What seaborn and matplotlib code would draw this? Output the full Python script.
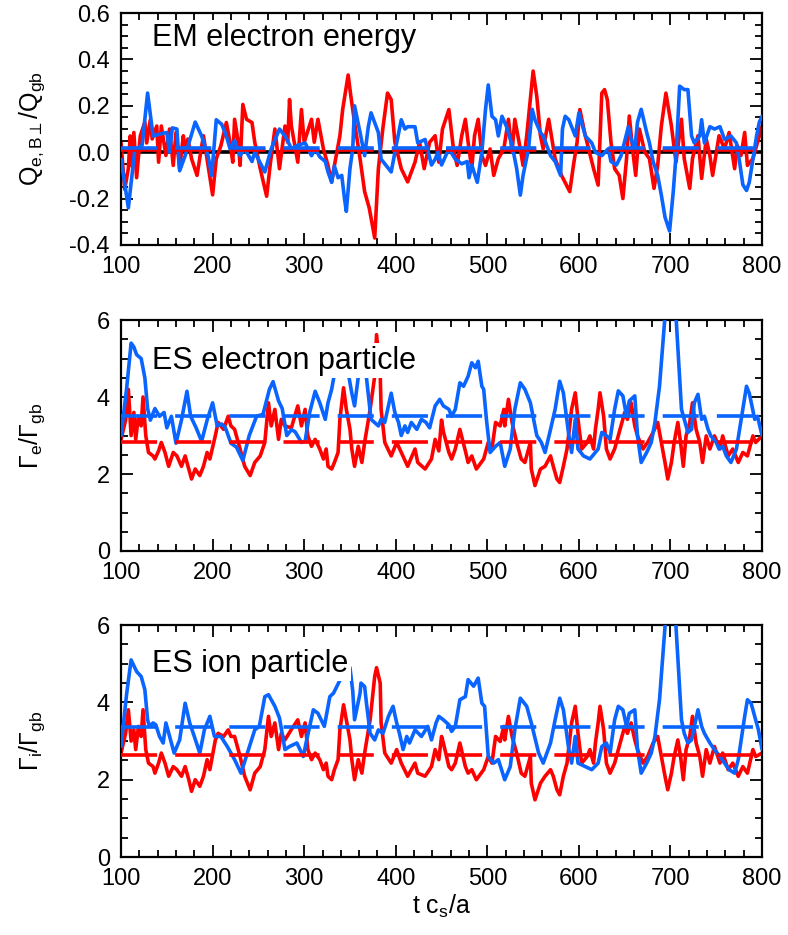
import pandas as pd
import seaborn as sns
import matplotlib.pyplot as plt
from matplotlib.ticker import MultipleLocator

# ---- panel 1: EM electron energy flux ----
t_em_red = [100, 104, 108, 110, 112, 114, 117, 121, 126, 128, 132, 134, 139, 141, 144, 149, 153, 157, 160, 164,
            168, 170, 173, 177, 183, 187, 190, 200, 204, 209, 215, 219, 222, 224, 228, 230, 233, 237, 243, 246,
            252, 259, 263, 268, 273, 279, 282, 284, 286, 293, 297, 300, 308, 311, 315, 321, 326, 330, 333, 339,
            342, 348, 351, 355, 361, 366, 371, 377, 381, 386, 391, 395, 399, 406, 413, 421, 426, 431, 437, 443,
            447, 451, 458, 463, 467, 472, 476, 479, 483, 486, 490, 494, 498, 503, 507, 512, 518, 523, 527, 530,
            536, 539, 543, 550, 554, 558, 561, 567, 574, 581, 590, 594, 598, 601, 607, 616, 621, 625, 628, 631,
            635, 639, 644, 648, 652, 655, 659, 662, 666, 672, 677, 682, 686, 690, 695, 701, 706, 712, 715, 721,
            724, 730, 734, 739, 743, 746, 753, 759, 764, 770, 773, 777, 781, 784, 790, 795, 800]
q_em_red = [0.04, -0.16, -0.07, 0.07, -0.06, 0.085, -0.11, 0.07, 0.13, 0.04, 0.14, 0.057, 0.113, -0.043, 0.113,
            -0.014, 0.1, -0.057, 0.085, -0.071, 0.071, 0.014, 0.057, -0.028, -0.1, 0.0, 0.071, -0.184, -0.028,
            0.028, 0.128, 0.043, -0.043, 0.142, 0.043, -0.057, 0.206, 0.142, 0.128, 0.043, -0.071, -0.19, -0.05,
            0.1, -0.071, 0.113, 0.043, 0.227, 0.113, -0.043, 0.184, 0.043, 0.142, 0.043, 0.142, 0.014, -0.057,
            -0.128, -0.057, 0.071, 0.184, 0.333, 0.24, 0.128, -0.028, -0.17, -0.24, -0.37, -0.071, 0.106, 0.255,
            0.227, 0.043, -0.071, -0.128, -0.043, 0.043, -0.071, 0.043, 0.071, -0.043, 0.1, 0.184, 0.014, -0.057,
            0.071, 0.142, 0.043, -0.071, 0.071, 0.142, -0.014, -0.057, 0.014, -0.1, -0.028, 0.014, 0.142, 0.0,
            0.142, 0.014, -0.057, 0.071, 0.35, 0.24, 0.071, 0.014, 0.142, -0.028, -0.1, -0.17, -0.057, 0.043,
            0.184, 0.071, -0.071, -0.142, 0.255, 0.27, 0.227, 0.043, -0.071, -0.1, -0.2, -0.028, 0.156, 0.0,
            -0.1, 0.1, 0.0, -0.028, -0.156, -0.057, 0.113, 0.255, 0.113, -0.043, 0.142, -0.028, -0.156, -0.028,
            0.071, -0.113, 0.057, -0.014, -0.1, 0.071, 0.014, 0.085, -0.071, 0.028, -0.014, 0.085, -0.057,
            -0.028, 0.043, 0.113]
t_em_blue = [100, 108, 115, 123, 129, 135, 144, 150, 153, 156, 161, 164, 170, 181, 188, 195, 199, 204, 210, 215,
             219, 224, 230, 235, 243, 246, 257, 264, 273, 279, 283, 286, 293, 301, 308, 312, 317, 323, 326, 330,
             333, 337, 341, 344, 346, 350, 353, 355, 361, 366, 370, 373, 381, 384, 392, 395, 401, 406, 410, 413,
             421, 424, 432, 439, 443, 446, 450, 458, 465, 472, 478, 480, 483, 489, 494, 498, 501, 505, 509, 512,
             516, 521, 527, 532, 536, 539, 545, 549, 552, 558, 561, 569, 574, 580, 582, 585, 589, 596, 600, 607,
             614, 618, 625, 632, 635, 641, 646, 654, 657, 661, 664, 668, 674, 677, 681, 686, 690, 694, 699, 703,
             706, 710, 715, 719, 723, 726, 732, 734, 737, 743, 748, 754, 759, 766, 772, 775, 779, 783, 786, 790,
             794, 797, 800]
q_em_blue = [-0.03, -0.24, 0.01, 0.03, 0.255, 0.07, 0.08, 0.085, 0.0, 0.105, 0.10, -0.08, -0.015, 0.13, 0.07,
             -0.015, -0.10, 0.14, 0.12, 0.07, 0.015, 0.05, -0.015, 0.015, -0.04, 0.0, -0.085, 0.015, 0.10, 0.07,
             0.04, 0.015, 0.03, 0.04, -0.015, 0.015, -0.02, -0.04, -0.085, -0.13, -0.06, -0.11, -0.10, -0.20,
             -0.255, -0.07, 0.015, 0.20, 0.085, -0.015, 0.11, 0.17, 0.085, -0.03, -0.07, -0.085, 0.04, 0.14, 0.10,
             0.11, 0.11, 0.04, 0.055, -0.055, -0.03, 0.0, -0.055, 0.015, -0.03, -0.05, -0.04, -0.11, -0.055,
             -0.13, 0.0, 0.185, 0.29, 0.155, 0.14, 0.07, 0.155, 0.11, 0.03, -0.07, -0.185, -0.10, 0.015, 0.185,
             0.14, 0.085, 0.07, -0.015, -0.04, -0.10, 0.10, 0.155, 0.14, 0.07, 0.17, 0.07, 0.04, 0.0, -0.015,
             0.015, -0.04, -0.055, -0.015, 0.11, 0.055, 0.015, 0.13, 0.185, 0.085, 0.04, -0.04, -0.10, -0.185,
             -0.28, -0.34, -0.17, -0.015, 0.285, 0.27, 0.27, 0.07, 0.04, 0.07, 0.14, 0.04, 0.11, 0.10, 0.11, 0.055,
             0.07, 0.04, -0.03, -0.14, -0.165, -0.13, -0.03, 0.07, 0.13, 0.155]
em_red_mean = 0.010
em_blue_mean = 0.018

# ---- panel 2: ES electron particle flux ----
t_ese_red = [100, 105, 108, 111, 114, 116, 119, 122, 124, 127, 130, 135, 137, 141, 144, 148, 152, 157, 161, 166,
             170, 174, 177, 181, 186, 190, 194, 197, 203, 206, 212, 217, 220, 224, 230, 235, 241, 246, 252, 257,
             261, 264, 268, 272, 275, 279, 286, 293, 297, 301, 304, 308, 312, 317, 321, 324, 326, 330, 333, 337,
             339, 343, 346, 350, 352, 355, 359, 363, 366, 372, 377, 379, 383, 384, 388, 395, 401, 406, 413, 421,
             424, 432, 439, 443, 447, 450, 452, 458, 461, 465, 470, 476, 479, 483, 488, 496, 501, 505, 509, 514,
             518, 519, 523, 527, 532, 537, 541, 547, 548, 552, 558, 563, 569, 572, 576, 579, 583, 587, 592, 596,
             599, 603, 609, 612, 616, 618, 621, 623, 627, 630, 634, 639, 646, 650, 653, 657, 661, 664, 670, 675,
             681, 686, 690, 694, 697, 701, 704, 708, 711, 714, 717, 721, 724, 728, 732, 735, 739, 743, 748, 754,
             757, 763, 768, 774, 779, 784, 790, 793, 800]
g_ese_red = [2.9, 3.4, 4.2, 3.0, 3.6, 2.9, 3.5, 3.25, 4.0, 3.0, 2.56, 2.47, 2.39, 2.6, 2.82, 2.56, 2.2, 2.56, 2.47,
             2.2, 2.47, 2.13, 1.87, 2.13, 1.96, 2.2, 2.56, 2.39, 3.0, 3.34, 3.16, 3.5, 3.25, 3.16, 2.65, 2.2, 1.96,
             2.3, 2.47, 2.82, 3.85, 3.25, 3.68, 2.9, 3.42, 3.25, 3.2, 3.77, 3.25, 3.68, 2.99, 2.72, 2.9, 2.65, 2.39,
             2.65, 2.2, 2.13, 2.3, 2.56, 3.42, 4.24, 3.68, 3.16, 2.65, 2.2, 2.72, 2.3, 2.82, 3.68, 4.54, 5.62, 4.6,
             3.68, 2.82, 2.47, 2.82, 2.56, 2.2, 2.65, 2.3, 2.13, 2.39, 2.9, 2.6, 3.4, 3.1, 2.56, 2.39, 2.65, 3.16,
             2.6, 2.3, 2.47, 2.13, 2.39, 2.82, 2.65, 3.34, 3.25, 3.68, 3.25, 3.94, 3.34, 2.82, 2.39, 2.3, 2.82,
             2.13, 1.7, 2.13, 2.2, 2.47, 2.2, 1.87, 1.78, 2.2, 2.65, 3.68, 4.11, 3.42, 2.65, 2.82, 2.99, 2.65, 3.16,
             3.68, 4.11, 3.5, 2.65, 2.39, 2.65, 3.25, 3.6, 3.42, 3.85, 3.25, 2.99, 2.65, 2.82, 3.08, 3.34, 2.82,
             2.3, 1.87, 2.3, 2.82, 3.34, 2.82, 2.2, 2.99, 3.34, 3.85, 3.16, 2.82, 2.3, 2.99, 2.65, 2.99, 2.65,
             2.99, 2.47, 2.65, 2.3, 2.56, 2.47, 2.99, 2.82, 2.99]
t_ese_blue = [100, 106, 111, 114, 117, 122, 126, 129, 132, 137, 142, 147, 150, 155, 160, 166, 172, 176, 182, 188,
              194, 200, 205, 210, 214, 220, 226, 233, 240, 248, 255, 262, 266, 272, 276, 281, 286, 290, 297, 301,
              306, 312, 317, 323, 326, 330, 333, 338, 344, 349, 352, 355, 360, 364, 368, 373, 381, 384, 388, 395,
              399, 403, 406, 410, 413, 417, 423, 428, 433, 437, 443, 448, 452, 458, 461, 465, 470, 474, 479, 483,
              487, 490, 494, 496, 499, 503, 509, 514, 519, 525, 530, 536, 541, 547, 554, 559, 563, 569, 574, 579,
              583, 589, 592, 596, 599, 605, 612, 621, 625, 630, 634, 639, 643, 648, 652, 655, 661, 664, 668, 674,
              679, 683, 688, 694, 698, 704, 706, 712, 715, 719, 723, 726, 730, 734, 737, 741, 744, 750, 753, 757,
              761, 766, 772, 779, 783, 786, 792, 795, 800]
g_ese_blue = [3.0, 4.2, 5.4, 5.3, 5.1, 5.0, 4.5, 3.7, 3.4, 3.7, 3.5, 3.6, 3.2, 3.5, 2.8, 3.4, 4.15, 3.5, 3.2, 2.85,
              3.4, 3.85, 3.25, 3.3, 3.2, 2.8, 2.7, 2.35, 3.0, 3.5, 3.55, 4.2, 4.4, 3.9, 3.7, 3.0, 3.15, 3.1, 2.82,
              2.85, 3.6, 4.15, 3.85, 3.42, 3.85, 4.2, 4.6, 5.0, 4.9, 4.5, 4.1, 3.77, 4.7, 5.0, 4.5, 3.42, 3.25,
              3.42, 3.34, 4.1, 3.6, 3.34, 3.0, 3.25, 3.08, 3.34, 3.16, 3.42, 3.34, 3.2, 3.77, 3.94, 3.77, 3.68, 3.5,
              3.68, 4.37, 4.28, 4.54, 4.89, 4.76, 4.93, 4.28, 4.2, 3.42, 2.56, 2.72, 2.82, 2.2, 2.65, 3.68, 4.37,
              4.2, 3.85, 3.0, 2.82, 2.56, 3.16, 3.68, 4.41, 4.11, 3.0, 2.56, 3.42, 2.65, 2.47, 2.39, 2.65, 3.08,
              3.0, 2.9, 3.68, 4.16, 4.03, 3.5, 3.9, 4.03, 2.99, 2.3, 2.56, 2.82, 3.34, 4.28, 6.1, 7.5, 7.5, 6.1,
              3.68, 3.42, 3.08, 3.16, 3.85, 4.07, 3.42, 3.5, 3.16, 2.99, 2.82, 2.65, 2.72, 2.47, 2.3, 2.65, 3.68,
              4.28, 4.1, 3.42, 3.5, 3.0]
ese_red_mean = 2.82
ese_blue_mean = 3.52

# ---- panel 3: ES ion particle flux ----
t_esi_red = t_ese_red
g_esi_red = [2.69, 3.2, 3.81, 3.0, 3.29, 2.78, 3.38, 3.12, 3.81, 2.78, 2.43, 2.34, 2.17, 2.43, 2.69, 2.43, 2.09,
             2.34, 2.26, 2.09, 2.34, 2.0, 1.7, 2.0, 1.83, 2.09, 2.52, 2.26, 3.03, 3.2, 3.12, 3.29, 3.12, 3.12, 2.6,
             2.09, 1.74, 2.17, 2.34, 2.78, 3.64, 3.12, 3.47, 2.78, 3.2, 3.03, 3.3, 3.55, 3.12, 3.47, 2.78, 2.52,
             2.69, 2.52, 2.26, 2.43, 2.09, 2.0, 2.26, 2.52, 3.29, 3.94, 3.55, 3.03, 2.52, 2.0, 2.52, 2.17, 2.69,
             3.55, 4.67, 4.9, 4.5, 3.47, 2.69, 2.43, 2.78, 2.43, 2.09, 2.43, 2.17, 2.09, 2.34, 2.78, 2.52, 3.12,
             2.95, 2.34, 2.26, 2.43, 2.95, 2.34, 2.17, 2.26, 2.0, 2.26, 2.6, 2.43, 3.12, 2.99, 3.38, 3.03, 3.64,
             3.12, 2.69, 2.17, 2.09, 2.6, 1.91, 1.48, 1.91, 2.09, 2.26, 2.09, 1.74, 1.61, 2.09, 2.43, 3.47, 3.9,
             3.2, 2.43, 2.6, 2.78, 2.43, 2.95, 3.47, 3.9, 3.29, 2.43, 2.17, 2.43, 3.03, 3.38, 3.2, 3.47, 3.03, 2.78,
             2.43, 2.6, 2.95, 3.12, 2.6, 2.09, 1.74, 2.17, 2.6, 3.03, 2.6, 2.0, 2.78, 3.12, 3.64, 2.95, 2.6, 2.09,
             2.78, 2.43, 2.86, 2.43, 2.69, 2.26, 2.43, 2.09, 2.34, 2.17, 2.78, 2.6, 2.69]
t_esi_blue = [100, 106, 111, 117, 122, 126, 129, 131, 135, 138, 142, 146, 149, 153, 158, 164, 170, 175, 180, 186,
              191, 197, 202, 209, 216, 224, 231, 238, 246, 251, 257, 261, 268, 273, 279, 284, 292, 299, 302, 310,
              315, 322, 328, 332, 341, 345, 350, 353, 355, 361, 362, 366, 368, 372, 377, 381, 386, 392, 397, 401,
              404, 408, 412, 415, 421, 428, 435, 439, 444, 447, 452, 458, 461, 465, 470, 476, 479, 485, 490, 494,
              497, 501, 507, 512, 519, 525, 530, 536, 543, 548, 556, 561, 569, 574, 579, 583, 589, 592, 596, 599,
              607, 614, 621, 625, 630, 634, 639, 643, 648, 652, 655, 661, 664, 668, 674, 679, 683, 688, 694, 698,
              703, 706, 712, 715, 719, 723, 730, 734, 737, 743, 748, 754, 759, 764, 770, 774, 781, 784, 788, 794,
              796, 800]
g_esi_blue = [2.86, 4.2, 5.1, 4.8, 4.67, 4.33, 3.55, 3.38, 3.47, 3.42, 3.12, 2.95, 3.47, 3.12, 2.69, 3.03, 3.98,
              3.47, 3.12, 2.69, 3.29, 3.64, 3.12, 3.12, 2.86, 2.52, 2.17, 2.69, 3.29, 3.38, 4.15, 4.2, 3.9, 3.6,
              2.78, 2.86, 2.95, 2.6, 2.95, 3.81, 3.72, 3.38, 4.15, 4.24, 4.67, 4.9, 4.9, 4.3, 3.55, 4.24, 4.5, 4.41,
              3.98, 3.2, 3.03, 3.29, 3.2, 3.64, 3.9, 3.47, 3.2, 2.78, 3.12, 2.95, 3.29, 3.12, 3.38, 3.03, 3.47,
              3.64, 3.55, 3.42, 3.25, 3.38, 4.07, 4.15, 4.59, 4.42, 4.63, 3.98, 3.9, 2.6, 2.43, 2.52, 2.0, 2.34,
              3.29, 4.11, 3.9, 3.47, 2.69, 2.43, 2.95, 3.55, 4.11, 3.81, 2.78, 2.43, 3.12, 2.43, 2.34, 2.26, 2.43,
              2.86, 2.95, 2.69, 3.55, 3.9, 3.81, 3.38, 3.72, 3.81, 2.78, 2.17, 2.43, 2.69, 3.12, 4.07, 5.96, 7.3,
              7.3, 5.96, 3.55, 3.2, 2.95, 3.03, 3.81, 3.38, 3.2, 2.95, 2.78, 2.6, 2.43, 2.26, 2.17, 2.52, 3.64,
              4.07, 3.98, 3.47, 3.29, 2.78]
esi_red_mean = 2.63
esi_blue_mean = 3.36

titles = ['EM electron energy', 'ES electron particle', 'ES ion particle']
ylabels = [r'Q$_{\rm e,B\perp}$/Q$_{\rm gb}$', r'$\Gamma_{\rm e}/\Gamma_{\rm gb}$', r'$\Gamma_{\rm i}/\Gamma_{\rm gb}$']

RED = '#ff0000'
BLUE = '#0a64ff'

sns.set_style('ticks')
plt.rcParams['font.family'] = ['Liberation Sans', 'DejaVu Sans']
plt.rcParams['mathtext.fontset'] = 'custom'
plt.rcParams['mathtext.rm'] = 'Liberation Sans'
plt.rcParams['mathtext.it'] = 'Liberation Sans:italic'
plt.rcParams['text.color'] = 'black'
plt.rcParams['axes.labelcolor'] = 'black'
plt.rcParams['xtick.color'] = 'black'
plt.rcParams['ytick.color'] = 'black'

fig = plt.figure(figsize=(7.88, 9.35), dpi=100)
ax1 = fig.add_axes([0.1536, 0.738, 0.8135, 0.248])
ax2 = fig.add_axes([0.1536, 0.4107, 0.8135, 0.247])
ax3 = fig.add_axes([0.1536, 0.0834, 0.8135, 0.248])
axes = [ax1, ax2, ax3]

panels = [
    (t_em_red, q_em_red, t_em_blue, q_em_blue, em_red_mean, em_blue_mean),
    (t_ese_red, g_ese_red, t_ese_blue, g_ese_blue, ese_red_mean, ese_blue_mean),
    (t_esi_red, g_esi_red, t_esi_blue, g_esi_blue, esi_red_mean, esi_blue_mean),
]

LW = 2.6
dash = (0, (10, 5))
for i, (ax, (tr, vr, tb, vb, mr, mb)) in enumerate(zip(axes, panels)):
    if i == 0:
        ax.axhline(0, color='black', lw=LW, zorder=1)
    red_df = pd.DataFrame({'t': tr, 'v': vr})
    blue_df = pd.DataFrame({'t': tb, 'v': vb})
    sns.lineplot(data=red_df, x='t', y='v', color=RED, lw=LW, estimator=None, ax=ax, zorder=2)
    sns.lineplot(data=blue_df, x='t', y='v', color=BLUE, lw=LW, estimator=None, ax=ax, zorder=3)
    ax.axhline(mr, color=RED, lw=LW, ls=dash, zorder=4)
    ax.axhline(mb, color=BLUE, lw=LW, ls=dash, zorder=5)

    ax.set_xlim(100, 800)
    ax.xaxis.set_major_locator(MultipleLocator(100))
    ax.xaxis.set_minor_locator(MultipleLocator(20))
    if i == 0:
        ax.set_ylim(-0.4, 0.6)
        ax.yaxis.set_major_locator(MultipleLocator(0.2))
        ax.yaxis.set_minor_locator(MultipleLocator(0.05))
        ax.set_yticklabels([f'{v:.1f}' for v in ax.get_yticks()])
    else:
        ax.set_ylim(0, 6)
        ax.yaxis.set_major_locator(MultipleLocator(2))
        ax.yaxis.set_minor_locator(MultipleLocator(0.5))
    ax.tick_params(which='both', direction='in', top=True, right=True, width=1.3, labelsize=17, pad=8)
    ax.tick_params(which='major', length=8.5)
    ax.tick_params(which='minor', length=5)
    for s in ax.spines.values():
        s.set_linewidth(1.6)
        s.set_color('black')
    ax.set_xlabel('')
    ax.set_ylabel(ylabels[i], fontsize=18)
    ax.yaxis.set_label_coords(-0.115, 0.5)
    ax.text(0.048, 0.86 if i == 0 else (0.79 if i == 1 else 0.80), titles[i], transform=ax.transAxes,
            fontsize=22, va='baseline', ha='left', zorder=10,
            bbox=dict(facecolor='white', edgecolor='none', pad=2))

ax3.set_xlabel(r't c$_{\rm s}$/a', fontsize=18, labelpad=2)

plt.savefig('out.png', dpi=100)
